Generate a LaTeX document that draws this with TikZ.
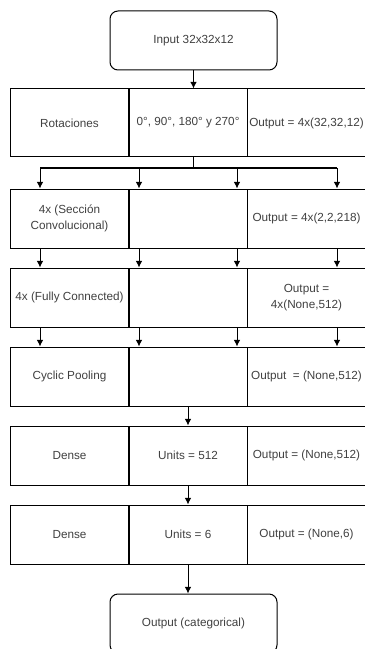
\documentclass[tikz,border=0pt]{standalone}
\usepackage{fontspec}
\setmainfont{Liberation Sans}
\usetikzlibrary{arrows.meta,calc}
\definecolor{txtgray}{HTML}{404040}
\tikzset{every scope/.style={>={Latex[length=5pt,width=5pt]},line width=0.75pt}}
\tikzset{
  cell/.style={draw,rectangle,minimum width=89.25pt,minimum height=44.25pt,inner sep=1pt,
    align=center,text=txtgray,font=\fontsize{8.8}{12.5}\selectfont},
  tallcell/.style={cell,minimum height=51pt},
  term/.style={cell,rounded corners=6pt,minimum width=125.25pt}
}

\begin{document}
\begin{tikzpicture}[x=0.75pt,y=-0.75pt]
      \useasboundingbox (0,0) rectangle (364,649);
      % input and output
      \node[term] (inp) at (193.5,40.5) {Input 32x32x12};
      \node[term] (res) at (193.5,623.5) {Output (categorical)};
      % rotaciones
      \node[tallcell] (rot1) at (69.5,123)  {Rotaciones};
      \node[tallcell] (rot2) at (188,123)   {0°, 90°, 180° y 270°};
      \node[tallcell] (rot3) at (306.5,123) {Output = 4x(32,32,12)};
      % convolucional
      \node[cell] (sec1) at (69.5,218.5)  {4x (Sección\\Convolucional)};
      \node[cell] (sec2) at (188,218.5)   {};
      \node[cell] (sec3) at (306.5,218.5) {Output = 4x(2,2,218)};
      % fully connected
      \node[cell] (fc1) at (69.5,297.5)  {4x (Fully Connected)};
      \node[cell] (fc2) at (188,297.5)   {};
      \node[cell] (fc3) at (306.5,297.5) {Output =\\4x(None,512)};
      % pooling
      \node[cell] (pool1) at (69.5,376.5)  {Cyclic Pooling};
      \node[cell] (pool2) at (188,376.5)   {};
      \node[cell] (pool3) at (306.5,376.5) {Output~ = (None,512)};
      % dense
      \node[cell] (den1) at (69.5,455.5)  {Dense};
      \node[cell] (den2) at (188,455.5)   {Units = 512};
      \node[cell] (den3) at (306.5,455.5) {Output = (None,512)};
      \node[cell] (fin1) at (69.5,534.5)  {Dense};
      \node[cell] (fin2) at (188,534.5)   {Units = 6};
      \node[cell] (fin3) at (306.5,534.5) {Output = (None,6)};
      % split into four
      \coordinate (split) at (193.5,168);
      \foreach \i/\x in {1/40,2/139,3/237,4/337}
        \coordinate (b\i) at (\x,168);
      \draw[->] (inp.south) -- (inp.south |- rot2.north);
      \draw (rot2.south -| split) -- (split);
      \draw (b1) -- (b4);
      \foreach \i in {1,...,4} {
        \draw[->] (b\i) -- (b\i |- sec1.north);
        \draw[->] (b\i |- sec1.south) -- (b\i |- fc1.north);
        \draw[->] (b\i |- fc1.south) -- (b\i |- pool1.north);
      }
      \draw[->] (pool2.south) -- (den2.north);
      \draw[->] (den2.south) -- (fin2.north);
      \draw[->] (fin2.south) -- (fin2.south |- res.north);
    \end{tikzpicture}
\end{document}
